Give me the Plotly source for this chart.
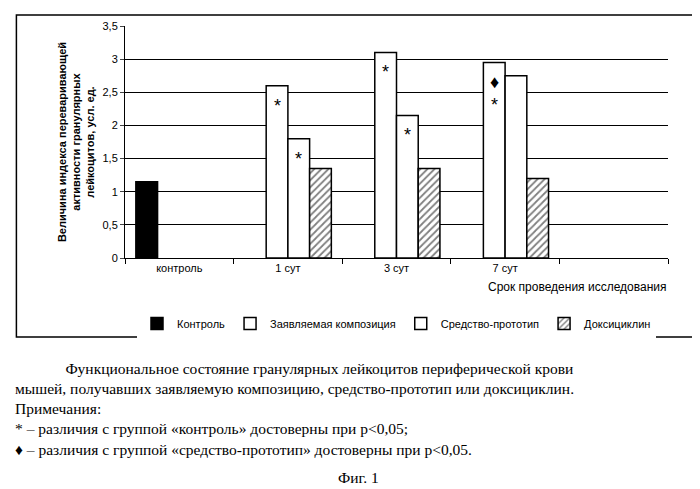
import plotly.graph_objects as go

categories = ["контроль", "1 сут", "3 сут", "7 сут", " "]
control = [1.15, None, None, None, None]
claimed = [None, 2.6, 3.1, 2.95, None]
prototype = [None, 1.8, 2.15, 2.75, None]
doxy = [None, 1.35, 1.35, 1.2, None]
y_ticks = [0, 0.5, 1, 1.5, 2, 2.5, 3, 3.5]
y_tick_labels = ["0", "0,5", "1", "1,5", "2", "2,5", "3", "3,5"]

fig = go.Figure()
fig.add_bar(x=categories, y=control, name="Контроль",
            marker=dict(color="black", line=dict(color="black", width=1.5)))
fig.add_bar(x=categories, y=claimed, name="Заявляемая композиция",
            marker=dict(color="white", line=dict(color="black", width=1.5)))
fig.add_bar(x=categories, y=prototype, name="Средство-прототип",
            marker=dict(color="white", line=dict(color="black", width=1.5)))
fig.add_bar(x=categories, y=doxy, name="Доксициклин",
            marker=dict(color="white", line=dict(color="black", width=1.5),
                        pattern=dict(shape="/", fgcolor="black", size=5, solidity=0.35)))

marks = [("1 сут", -10.8, 2.6, "*"), ("1 сут", 10.8, 1.8, "*"),
         ("3 сут", -10.8, 3.1, "*"), ("3 сут", 10.8, 2.15, "*"),
         ("7 сут", -10.8, 2.95, "♦<br>*")]
for cat, off, val, txt in marks:
    fig.add_annotation(x=cat, y=val - 0.12, xshift=off,
                       text=txt, showarrow=False, yanchor="top",
                       font=dict(size=18, color="black"))

fig.add_shape(type="rect", xref="paper", yref="paper", x0=-0.2, x1=1.06,
              y0=-0.34, y1=1.047, line=dict(color="black", width=1.5))

caption = ("&nbsp;&nbsp;&nbsp;&nbsp;&nbsp;&nbsp;&nbsp;&nbsp;&nbsp;&nbsp;&nbsp;&nbsp;&nbsp;Функциональное состояние гранулярных лейкоцитов периферической крови<br>"
           "мышей, получавших заявляемую композицию, средство-прототип или доксициклин.<br>"
           "Примечания:<br>"
           "* – различия с группой «контроль» достоверны при р&lt;0,05;<br>"
           "♦ – различия с группой «средство-прототип» достоверны при р&lt;0,05.")
fig.add_annotation(xref="paper", yref="paper", x=-0.207, y=-0.43, text=caption,
                   showarrow=False, xanchor="left", yanchor="top", align="left",
                   font=dict(family="Liberation Serif", size=15.5, color="black"))
fig.add_annotation(xref="paper", yref="paper", x=0.43, y=-0.9, text="Фиг. 1",
                   showarrow=False, xanchor="center", yanchor="top",
                   font=dict(family="Liberation Serif", size=15.5, color="black"))
fig.add_annotation(xref="paper", yref="paper", x=1.0, y=-0.085, text="Срок проведения исследования",
                   showarrow=False, xanchor="right", yanchor="top",
                   font=dict(size=12, color="black"))

fig.update_layout(
    width=700, height=489, barmode="group", bargap=0.2, bargroupgap=0.0,
    margin=dict(l=117, r=40, t=16, b=239),
    paper_bgcolor="white", plot_bgcolor="white",
    font=dict(family="Liberation Sans", size=11, color="black"),
    showlegend=True,
    legend=dict(orientation="h", x=0.5, xanchor="center", y=-0.22, yanchor="top",
                font=dict(size=11), itemwidth=30),
    xaxis=dict(showline=True, linecolor="black", ticks="outside", tickson="boundaries",
               tickcolor="black", ticklen=5),
    yaxis=dict(range=[0, 3.5], tickvals=y_ticks, ticktext=y_tick_labels,
               showgrid=True, gridcolor="black", gridwidth=1.2,
               showline=True, linecolor="black", ticks="outside", ticklen=4,
               title=dict(text="<b>Величина индекса переваривающей<br>активности гранулярных<br>лейкоцитов, усл. ед.</b>",
                          font=dict(size=11), standoff=5)),
)
fig.write_html("out.html")
